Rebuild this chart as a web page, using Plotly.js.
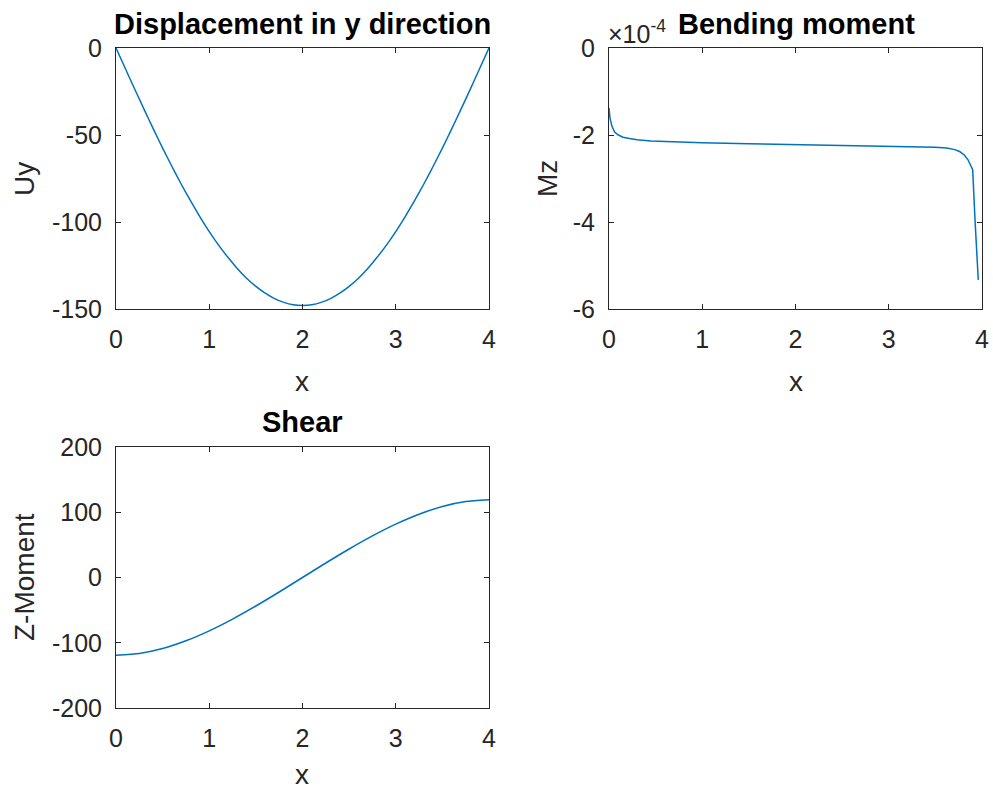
<!DOCTYPE html>
<html>
<head>
<meta charset="utf-8">
<script src="https://cdn.plot.ly/plotly-3.0.1.min.js"></script>
<style>
  html, body { margin: 0; padding: 0; background: #fff; }
  #plot { width: 993px; height: 792px; }
</style>
</head>
<body>
<div id="plot"></div>
<script>
/* values */
const dispX = [0, 0.1, 0.2, 0.3, 0.4, 0.5, 0.6, 0.7, 0.8, 0.9, 1.0, 1.1, 1.2, 1.3, 1.4, 1.5, 1.6, 1.7, 1.8, 1.9, 2.0,
               2.1, 2.2, 2.3, 2.4, 2.5, 2.6, 2.7, 2.8, 2.9, 3.0, 3.1, 3.2, 3.3, 3.4, 3.5, 3.6, 3.7, 3.8, 3.9, 4.0];
const dispY = [0, -11.8, -23.6, -35.1, -46.5, -57.5, -68.1, -78.3, -87.9, -97.0, -105.5, -113.3, -120.3, -126.7, -132.3, -137.0, -140.9, -144.0, -146.2, -147.6, -148.0,
               -147.6, -146.2, -144.0, -140.9, -137.0, -132.3, -126.7, -120.3, -113.3, -105.5, -97.0, -87.9, -78.3, -68.1, -57.5, -46.5, -35.1, -23.6, -11.8, 0];

// bending moment, in units of 1e-4
const momX = [0, 0.01, 0.03, 0.06, 0.1, 0.15, 0.22, 0.3, 0.45, 0.6, 0.8, 1.0, 1.5, 2.0, 2.5, 2.9, 3.3, 3.5, 3.62, 3.7, 3.76, 3.81, 3.85, 3.88, 3.9, 3.925, 3.945, 3.96];
const momY = [-1.38, -1.6, -1.79, -1.93, -2.0, -2.05, -2.08, -2.11, -2.14, -2.155, -2.17, -2.18, -2.2, -2.22, -2.23, -2.24, -2.26, -2.28, -2.3, -2.33, -2.38, -2.46, -2.57, -2.7, -2.8, -3.95, -4.85, -5.33];

const shearX = [0, 0.25, 0.5, 0.75, 1.0, 1.25, 1.5, 1.75, 2.0, 2.25, 2.5, 2.75, 3.0, 3.25, 3.5, 3.75, 4.0];
const shearY = [-119, -116.3, -108.8, -97.0, -81.8, -63.8, -43.7, -22.2, 0, 22.2, 43.7, 63.8, 81.8, 97.0, 108.8, 116.3, 119];

const xTicks = [0, 1, 2, 3, 4];
const dispTicks = [-150, -100, -50, 0];
const momTicks = [-6, -4, -2, 0];
const shearTicks = [-200, -100, 0, 100, 200];

const W = 993, H = 792;
const px = x => x / W;
const py = y => 1 - y / H;

const FONT = 'Liberation Sans, Arial, Helvetica, sans-serif';
const BLUE = '#0072BD';
const AX = '#262626';

function lbl(v) { return v.map(t => String(t)); }

function axis(dom, vals, range, standoff) {
  return {
    domain: dom,
    range: range,
    tickmode: 'array',
    tickvals: vals,
    ticktext: lbl(vals),
    ticks: 'inside',
    ticklen: 5,
    tickcolor: AX,
    showline: true,
    linecolor: AX,
    linewidth: 1,
    mirror: 'ticks',
    showgrid: false,
    zeroline: false,
    ticklabelstandoff: standoff,
    tickfont: { family: FONT, size: 25, color: AX },
    fixedrange: true
  };
}

const line = { color: BLUE, width: 1.5, shape: 'spline', smoothing: 0.6 };

const traces = [
  { x: dispX, y: dispY, xaxis: 'x', yaxis: 'y', mode: 'lines', line: line },
  { x: momX, y: momY, xaxis: 'x2', yaxis: 'y2', mode: 'lines', line: { color: BLUE, width: 1.5 } },
  { x: shearX, y: shearY, xaxis: 'x3', yaxis: 'y3', mode: 'lines', line: line }
];

const leftDom = [px(116), px(489)];
const rightDom = [px(609), px(982)];
const topDom = [py(309), py(48)];
const botDom = [py(708), py(447)];

const xa = axis(leftDom, xTicks, [0, 4], 8); xa.anchor = 'y';
const ya = axis(topDom, dispTicks, [-150, 0], 8); ya.anchor = 'x';
const xa2 = axis(rightDom, xTicks, [0, 4], 8); xa2.anchor = 'y2';
const ya2 = axis(topDom, momTicks, [-6, 0], 8); ya2.anchor = 'x2';
const xa3 = axis(leftDom, xTicks, [0, 4], 8); xa3.anchor = 'y3';
const ya3 = axis(botDom, shearTicks, [-200, 200], 8); ya3.anchor = 'x3';

function note(text, x, y, opts) {
  return Object.assign({
    text: text, xref: 'paper', yref: 'paper', x: px(x), y: py(y),
    xanchor: 'center', yanchor: 'middle', showarrow: false,
    font: { family: FONT, size: 28, color: AX }
  }, opts || {});
}

const titleFont = { family: FONT, size: 29, color: '#000' };

const annotations = [
  note('<b>Displacement in y direction</b>', 302, 24, { font: titleFont }),
  note('<b>Bending moment</b>', 796, 24, { font: titleFont }),
  note('<b>Shear</b>', 302, 422, { font: titleFont }),
  note('x', 302, 381),
  note('x', 796, 381),
  note('x', 302, 792, { yanchor: 'bottom' }),
  note('Uy', 24, 179, { textangle: -90 }),
  note('Mz', 547, 179, { textangle: -90 }),
  note('Z-Moment', 24, 577, { textangle: -90 }),
  note('\u00d710<sup>-4</sup>', 606, 32, { xanchor: 'left', font: { family: FONT, size: 25, color: AX } })
];

Plotly.newPlot('plot', traces, {
  width: W,
  height: H,
  margin: { l: 0, r: 0, t: 0, b: 0 },
  paper_bgcolor: '#fff',
  plot_bgcolor: '#fff',
  showlegend: false,
  xaxis: xa, yaxis: ya,
  xaxis2: xa2, yaxis2: ya2,
  xaxis3: xa3, yaxis3: ya3,
  annotations: annotations
}, { displayModeBar: false, staticPlot: true });
</script>
</body>
</html>
